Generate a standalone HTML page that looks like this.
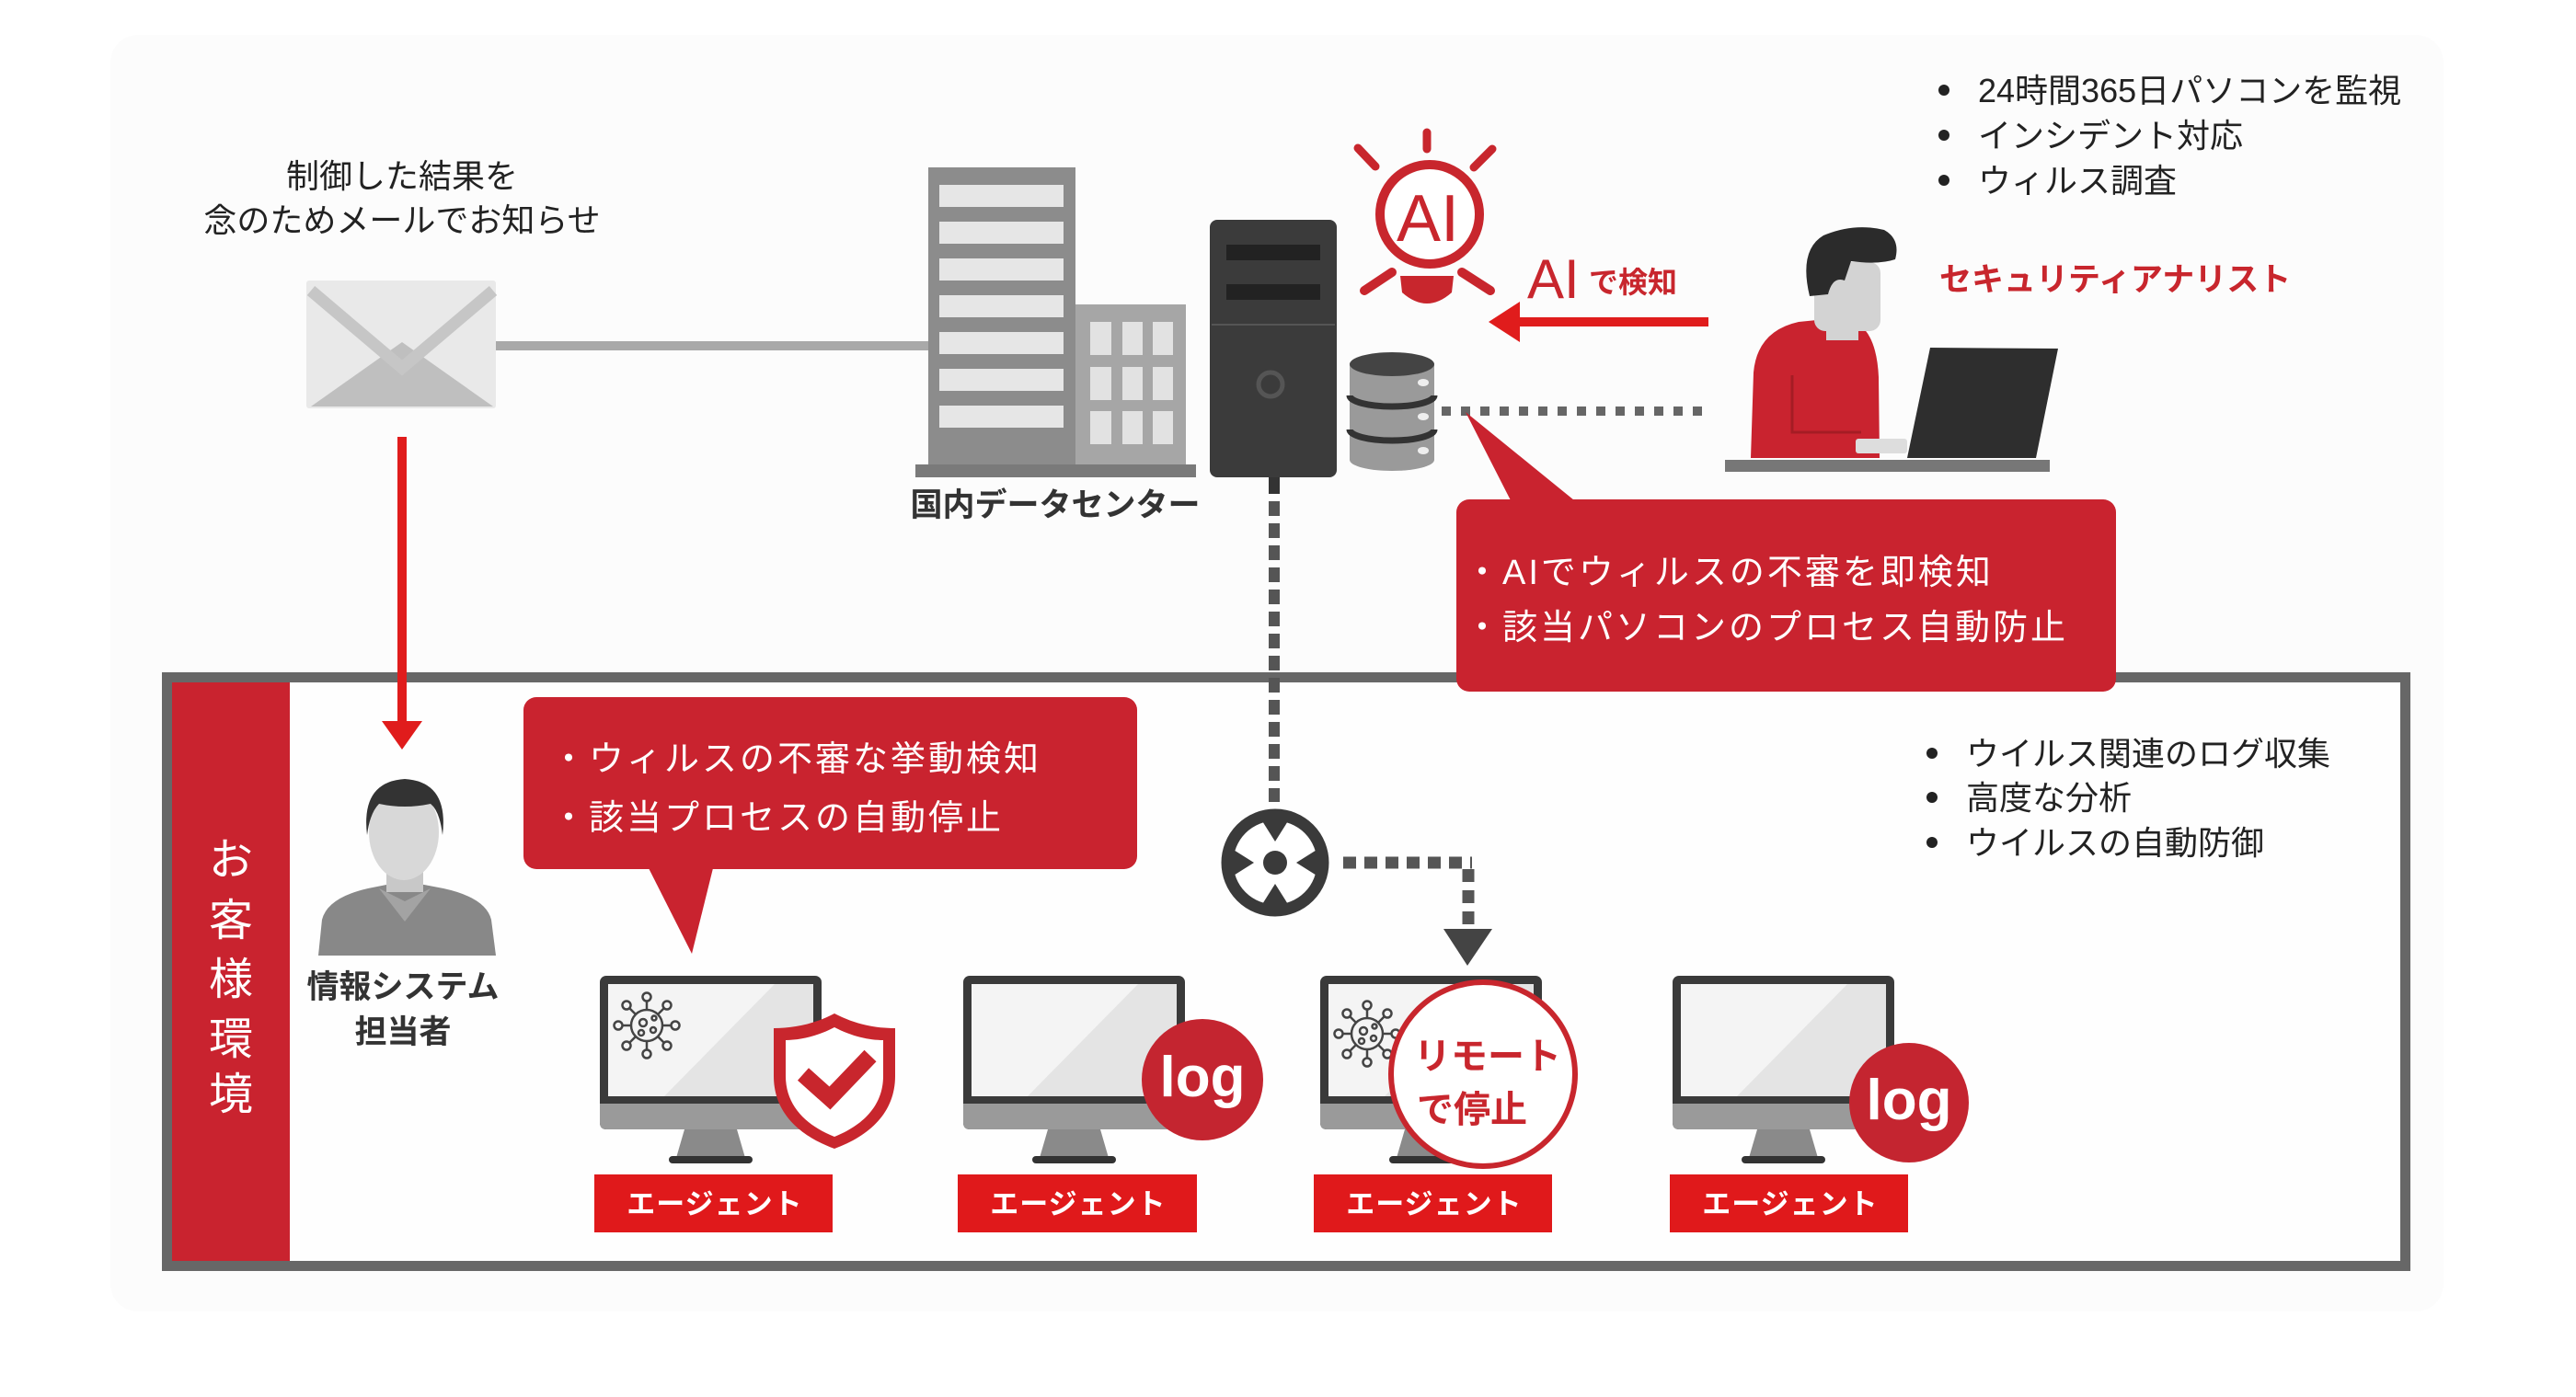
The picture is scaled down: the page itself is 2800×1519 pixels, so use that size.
<!DOCTYPE html>
<html><head><meta charset="utf-8">
<style>
html,body{margin:0;padding:0;background:#fff;}
svg{display:block;}
text{font-family:"Liberation Sans","Noto Sans CJK JP",sans-serif;}
</style></head><body>
<svg width="2800" height="1519" viewBox="0 0 2800 1519" xmlns="http://www.w3.org/2000/svg">
<rect width="2800" height="1519" fill="#fff"/>
<rect x="120" y="38" width="2536" height="1388" rx="30" fill="#fcfcfc"/>

<!-- top-left text -->
<text x="437" y="204" font-size="36" fill="#222" text-anchor="middle">制御した結果を</text>
<text x="437" y="252" font-size="36" fill="#222" text-anchor="middle">念のためメールでお知らせ</text>

<!-- envelope -->
<rect x="333" y="305" width="206" height="139" rx="3" fill="#e9e9e9"/>
<polygon points="338,442 437,372 536,442" fill="#bfbfbf"/>
<polyline points="338,316 437,400 536,316" fill="none" stroke="#c6c6c6" stroke-width="13"/>

<!-- gray connector -->
<rect x="539" y="371" width="472" height="10" fill="#a9a9a9"/>

<!-- customer box -->
<rect x="181.5" y="736.5" width="2433" height="640" fill="#fefefe" stroke="#676767" stroke-width="11"/>
<rect x="187" y="742" width="128" height="629" fill="#c9232f"/>
<g font-size="48" fill="#fff" text-anchor="middle">
<text x="251" y="951">お</text>
<text x="251" y="1017">客</text>
<text x="251" y="1081">様</text>
<text x="251" y="1146">環</text>
<text x="251" y="1206">境</text>
</g>

<!-- red arrow down -->
<rect x="432" y="475" width="10" height="315" fill="#e01c1c"/>
<polygon points="415,784 459,784 437,815" fill="#e01c1c"/>

<!-- buildings -->
<rect x="1009" y="182" width="160" height="324" fill="#8c8c8c"/>
<g fill="#e6e6e6">
<rect x="1021" y="201" width="135" height="24"/>
<rect x="1021" y="241" width="135" height="24"/>
<rect x="1021" y="281" width="135" height="24"/>
<rect x="1021" y="321" width="135" height="24"/>
<rect x="1021" y="361" width="135" height="24"/>
<rect x="1021" y="401" width="135" height="24"/>
<rect x="1021" y="441" width="135" height="24"/>
</g>
<rect x="1169" y="331" width="120" height="175" fill="#a6a6a6"/>
<g fill="#e2e2e2">
<rect x="1185" y="350" width="23" height="36"/><rect x="1220" y="350" width="22" height="36"/><rect x="1253" y="350" width="22" height="36"/>
<rect x="1185" y="399" width="23" height="36"/><rect x="1220" y="399" width="22" height="36"/><rect x="1253" y="399" width="22" height="36"/>
<rect x="1185" y="447" width="23" height="36"/><rect x="1220" y="447" width="22" height="36"/><rect x="1253" y="447" width="22" height="36"/>
</g>
<rect x="995" y="505" width="305" height="14" fill="#7a7a7a"/>
<text x="1147" y="561" font-size="35" font-weight="bold" fill="#333" text-anchor="middle">国内データセンター</text>

<!-- server -->
<rect x="1315" y="239" width="138" height="280" rx="8" fill="#3b3b3b"/>
<rect x="1333" y="266" width="102" height="17" fill="#222"/>
<rect x="1333" y="309" width="102" height="17" fill="#222"/>
<line x1="1317" y1="353" x2="1451" y2="353" stroke="#555" stroke-width="2"/>
<circle cx="1381" cy="418" r="13" fill="none" stroke="#555" stroke-width="5"/>
<rect x="1379" y="519" width="12" height="18" fill="#333"/>
<line x1="1385" y1="545" x2="1385" y2="872" stroke="#555" stroke-width="12" stroke-dasharray="16 8"/>

<!-- database -->
<path d="M1467,396 L1467,500 A46,12 0 0 0 1559,500 L1559,396 Z" fill="#9a9a9a"/>
<ellipse cx="1513" cy="396" rx="46" ry="13" fill="#444"/>
<path d="M1467,430 A46,12 0 0 0 1559,430" fill="none" stroke="#333" stroke-width="7"/>
<path d="M1467,467 A46,12 0 0 0 1559,467" fill="none" stroke="#333" stroke-width="7"/>
<g fill="#eee"><ellipse cx="1547" cy="416" rx="6" ry="4"/><ellipse cx="1547" cy="453" rx="6" ry="4"/><ellipse cx="1547" cy="490" rx="6" ry="4"/></g>
<line x1="1567" y1="447" x2="1858" y2="447" stroke="#666" stroke-width="10" stroke-dasharray="10 11"/>

<!-- AI bulb -->
<g stroke="#c8262d" stroke-linecap="round" fill="none">
<line x1="1551" y1="144" x2="1551" y2="162" stroke-width="9"/>
<line x1="1476" y1="161" x2="1495" y2="181" stroke-width="9"/>
<line x1="1622" y1="162" x2="1602" y2="182" stroke-width="9"/>
<line x1="1513" y1="296" x2="1483" y2="316" stroke-width="10"/>
<line x1="1589" y1="296" x2="1620" y2="316" stroke-width="10"/>
<circle cx="1554" cy="233" r="54" fill="#fff" stroke-width="10"/>
</g>
<path d="M1522,300 L1580,300 L1578,318 Q1551,342 1524,318 Z" fill="#c8262d"/>
<text x="1552" y="262" font-size="72" fill="#c8262d" text-anchor="middle">AI</text>
<text x="1660" y="324" font-size="60" fill="#c8262d">AI</text>
<text x="1727" y="318" font-size="32" font-weight="bold" fill="#c8262d">で検知</text>
<rect x="1645" y="345" width="212" height="10" fill="#e01c1c"/>
<polygon points="1618,350 1652,328 1652,372" fill="#e01c1c"/>

<!-- analyst -->
<path d="M1903,498 L1906,405 Q1910,360 1955,350 L1975,348 Q1995,366 2020,352 Q2040,366 2042,410 L2043,498 Z" fill="#c9232f"/>
<polyline points="1948,408 1948,470 2023,470" fill="none" stroke="#a51c24" stroke-width="3"/>
<rect x="1985" y="340" width="35" height="30" fill="#d3d3d3"/>
<rect x="1972" y="285" width="72" height="75" rx="12" fill="#d3d3d3"/>
<path d="M1967,322 Q1955,272 1982,256 Q2015,242 2048,250 Q2066,260 2060,282 Q2042,288 2012,284 L2005,305 Q1992,300 1987,320 Z" fill="#2b2b2b"/>
<rect x="2017" y="477" width="56" height="16" rx="3" fill="#ddd"/>
<polygon points="2098,378 2237,379 2213,498 2073,498" fill="#2e2e2e"/>
<rect x="1875" y="500" width="353" height="13" fill="#777"/>
<text x="2108" y="316" font-size="35" font-weight="bold" fill="#c8262d">セキュリティアナリスト</text>

<!-- top right bullets -->
<g fill="#222"><circle cx="2113" cy="98" r="6"/><circle cx="2113" cy="147" r="6"/><circle cx="2113" cy="196" r="6"/></g>
<g font-size="36" fill="#222">
<text x="2150" y="111">24時間365日パソコンを監視</text>
<text x="2150" y="160">インシデント対応</text>
<text x="2150" y="209">ウィルス調査</text>
</g>

<!-- top-right callout -->
<polygon points="1593,448 1644,548 1716,548" fill="#c9232f"/>
<rect x="1583" y="543" width="717" height="209" rx="14" fill="#c9232f"/>
<g font-size="38" fill="#fff" style="letter-spacing:3px">
<text x="1592" y="635">・AIでウィルスの不審を即検知</text>
<text x="1592" y="695">・該当パソコンのプロセス自動防止</text>
</g>

<!-- person -->
<path d="M346,1039 L350,1000 Q356,976 400,966 L440,958 L482,966 Q528,976 534,1000 L539,1039 Z" fill="#888"/>
<rect x="420" y="935" width="40" height="35" fill="#c8c8c8"/>
<polygon points="412,966 440,1002 468,966 440,980" fill="#a3a3a3"/>
<ellipse cx="439" cy="905" rx="38" ry="52" fill="#d8d8d8"/>
<path d="M399,908 Q392,850 440,847 Q488,850 481,908 Q478,882 468,874 Q440,880 412,874 Q402,884 399,908 Z" fill="#333"/>
<text x="438" y="1085" font-size="35" font-weight="bold" fill="#333" text-anchor="middle">情報システム</text>
<text x="438" y="1134" font-size="35" font-weight="bold" fill="#333" text-anchor="middle">担当者</text>

<!-- left callout -->
<polygon points="703,940 776,940 752,1037" fill="#c9232f"/>
<rect x="569" y="758" width="667" height="187" rx="14" fill="#c9232f"/>
<g font-size="38" fill="#fff" style="letter-spacing:3px">
<text x="599" y="838">・ウィルスの不審な挙動検知</text>
<text x="599" y="902">・該当プロセスの自動停止</text>
</g>

<!-- hub -->
<circle cx="1386" cy="938" r="52" fill="#fff" stroke="#3a3a3a" stroke-width="13"/>
<g fill="#3a3a3a">
<polygon points="1369,888 1403,888 1386,915"/>
<polygon points="1369,988 1403,988 1386,961"/>
<polygon points="1336,921 1336,955 1363,938"/>
<polygon points="1436,921 1436,955 1409,938"/>
<circle cx="1386" cy="938" r="13"/>
</g>
<line x1="1460" y1="938" x2="1600" y2="938" stroke="#555" stroke-width="13" stroke-dasharray="14 9"/>
<line x1="1596" y1="945" x2="1596" y2="1010" stroke="#555" stroke-width="13" stroke-dasharray="14 9"/>
<polygon points="1569,1010 1622,1010 1595,1050" fill="#444"/>

<!-- monitors -->
<defs>
<g id="mon">
<rect x="0" y="0" width="241" height="167" rx="7" fill="#3a3a3a"/>
<rect x="9" y="9" width="223" height="122" fill="#f4f4f4"/>
<polygon points="70,131 190,9 232,9 232,131" fill="#e4e4e4"/>
<path d="M0,139 L241,139 L241,160 Q241,167 234,167 L7,167 Q0,167 0,160 Z" fill="#9a9a9a"/>
<polygon points="92,167 149,167 158,198 83,198" fill="#8a8a8a"/>
<rect x="75" y="196" width="91" height="8" rx="4" fill="#333"/>
</g>
<g id="virus" stroke="#444" stroke-width="2.5" fill="none">
<circle r="17"/>
<line x1="17" y1="0" x2="27" y2="0"/><circle cx="31" cy="0" r="4.5"/>
<line x1="-17" y1="0" x2="-27" y2="0"/><circle cx="-31" cy="0" r="4.5"/>
<line x1="0" y1="17" x2="0" y2="27"/><circle cx="0" cy="31" r="4.5"/>
<line x1="0" y1="-17" x2="0" y2="-27"/><circle cx="0" cy="-31" r="4.5"/>
<line x1="12" y1="12" x2="19" y2="19"/><circle cx="22" cy="22" r="4.5"/>
<line x1="-12" y1="12" x2="-19" y2="19"/><circle cx="-22" cy="22" r="4.5"/>
<line x1="12" y1="-12" x2="19" y2="-19"/><circle cx="22" cy="-22" r="4.5"/>
<line x1="-12" y1="-12" x2="-19" y2="-19"/><circle cx="-22" cy="-22" r="4.5"/>
<circle cx="-4" cy="-3" r="4"/><circle cx="7" cy="5" r="3"/><circle cx="-6" cy="8" r="3"/><circle cx="8" cy="-8" r="2.5"/>
</g>
</defs>
<use href="#mon" x="652" y="1061"/>
<use href="#mon" x="1047" y="1061"/>
<use href="#mon" x="1435" y="1061"/>
<use href="#mon" x="1818" y="1061"/>
<use href="#virus" x="703" y="1115"/>
<use href="#virus" x="1486" y="1124"/>

<!-- shield -->
<path d="M907,1102 C930,1114 952,1118 973,1118 L973,1170 C973,1210 945,1235 907,1249 C869,1235 841,1210 841,1170 L841,1118 C862,1118 884,1114 907,1102 Z" fill="#c8262d"/>
<path d="M907,1117 C926,1127 945,1131 960,1131 L960,1170 C960,1203 937,1224 907,1236 C877,1224 854,1203 854,1170 L854,1131 C869,1131 888,1127 907,1117 Z" fill="#fff"/>
<polyline points="873,1168 902,1194 946,1148" fill="none" stroke="#c8262d" stroke-width="18"/>

<!-- log circles -->
<circle cx="1307" cy="1174" r="66" fill="#c42530"/>
<text x="1307" y="1192" font-size="62" font-weight="bold" fill="#fff" text-anchor="middle">log</text>
<circle cx="2075" cy="1199" r="65" fill="#c42530"/>
<text x="2075" y="1217" font-size="62" font-weight="bold" fill="#fff" text-anchor="middle">log</text>

<!-- remote stop -->
<circle cx="1612" cy="1168" r="100" fill="#fff" stroke="#c8262d" stroke-width="6"/>
<text x="1537" y="1162" font-size="40" font-weight="bold" fill="#c8262d">リモート</text>
<text x="1540" y="1220" font-size="40" font-weight="bold" fill="#c8262d">で停止</text>

<!-- agent labels -->
<g fill="#e0191b">
<rect x="646" y="1277" width="259" height="63"/>
<rect x="1041" y="1277" width="260" height="63"/>
<rect x="1428" y="1277" width="259" height="63"/>
<rect x="1815" y="1277" width="259" height="63"/>
</g>
<g font-size="31" font-weight="bold" fill="#fff" text-anchor="middle" style="letter-spacing:1px">
<text x="777" y="1320">エージェント</text>
<text x="1172" y="1320">エージェント</text>
<text x="1559" y="1320">エージェント</text>
<text x="1946" y="1320">エージェント</text>
</g>

<!-- bottom right bullets -->
<g fill="#222"><circle cx="2100" cy="819" r="6"/><circle cx="2100" cy="867" r="6"/><circle cx="2100" cy="916" r="6"/></g>
<g font-size="36" fill="#222">
<text x="2137" y="832">ウイルス関連のログ収集</text>
<text x="2137" y="880">高度な分析</text>
<text x="2137" y="929">ウイルスの自動防御</text>
</g>
</svg>
</body></html>
